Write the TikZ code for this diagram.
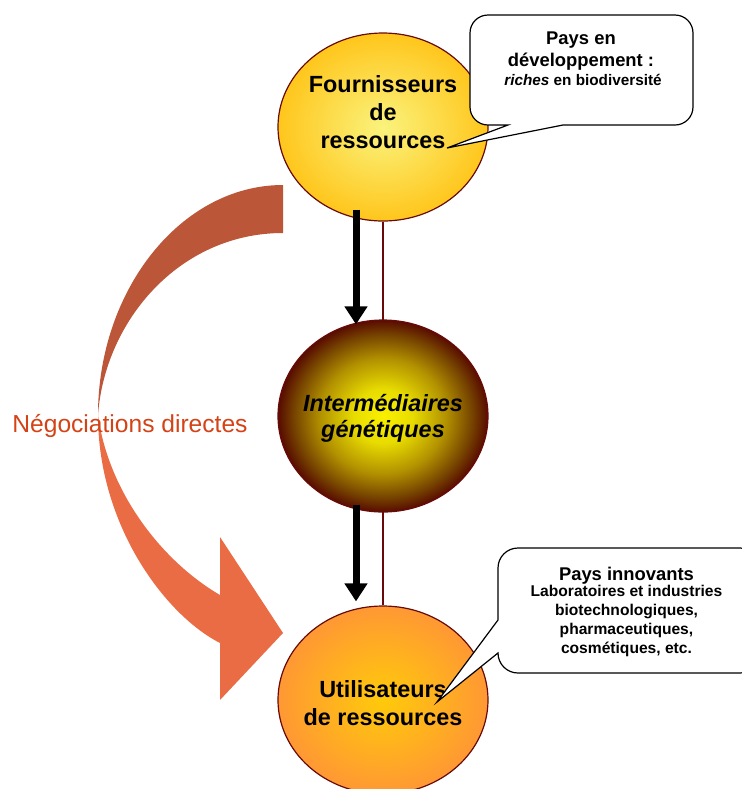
\documentclass[tikz,border=0pt]{standalone}
\usepackage{fontspec}
\setmainfont{Liberation Sans}
\usetikzlibrary{arrows.meta,backgrounds,shapes.geometric}

\definecolor{rimred}{RGB}{105,10,10}
\definecolor{backfold}{RGB}{188,86,57}
\definecolor{frontfold}{RGB}{234,108,69}
\definecolor{negored}{RGB}{212,66,22}
\definecolor{fournin}{RGB}{250,243,125}
\definecolor{fournout}{RGB}{255,198,28}
\definecolor{utilin}{RGB}{255,202,10}
\definecolor{utilout}{RGB}{255,152,52}
\definecolor{intermin}{RGB}{250,240,0}
\definecolor{intermlight}{RGB}{232,220,0}
\definecolor{intermmid}{RGB}{178,145,0}
\definecolor{intermdark}{RGB}{120,70,0}
\definecolor{intermout}{RGB}{88,12,0}

\pgfdeclareradialshading{fournball}{\pgfpointorigin}{color(0bp)=(fournin); color(25bp)=(fournout); color(50bp)=(fournout)}
\pgfdeclareradialshading{intermball}{\pgfpointorigin}{color(0bp)=(intermin); color(7bp)=(intermlight); color(15bp)=(intermmid); color(21bp)=(intermdark); color(25bp)=(intermout); color(50bp)=(intermout)}
\pgfdeclareradialshading{utilball}{\pgfpointorigin}{color(0bp)=(utilin); color(25bp)=(utilout); color(50bp)=(utilout)}

\begin{document}
\begin{tikzpicture}[x=0.5pt,y=-0.5pt,
  ball/.style={ellipse,draw=rimred,line width=0.6pt,inner sep=0pt,
    minimum width=105pt,minimum height=94pt},
  balltext/.style={align=center,font=\fontsize{11.7}{14}\selectfont\bfseries},
  flow/.style={line width=3.5pt,-{Triangle[width=11pt,length=9pt]}},
  bubble/.style={draw=black,line width=0.6pt,fill=white},
  bubbletitle/.style={align=center,font=\fontsize{9.2}{10.85}\selectfont\bfseries},
  bubblebody/.style={align=center,font=\fontsize{7.8}{9.35}\selectfont\bfseries}]
\useasboundingbox (0,0) rectangle (742,789);

%Big curved arrow
\fill[backfold] (283,185) .. controls (181,185) and (98,290) .. (98,415)
  .. controls (105,320) and (180,233) .. (283,233) -- cycle;
\fill[frontfold] (98,415) .. controls (98,525) and (165,615) .. (220,643)
  -- (220,700) -- (283,633) -- (220,537) -- (220,595)
  .. controls (160,560) and (108,490) .. (98,415) -- cycle;
\node[text=negored,font=\fontsize{12.3}{14}\selectfont,anchor=base] (nego) at (130,432) {Négociations directes};

%Circles
\node[ball,shade,shading=fournball] (fourn) at (383,127) {};
\node[ball,shade,shading=intermball,minimum height=96pt] (interm) at (383,416) {};
\node[ball,shade,shading=utilball] (util) at (383,700) {};
\node[balltext] (fourntext) at (383,112) {Fournisseurs\\de\\ressources};
\node[balltext,font=\fontsize{11.7}{13}\selectfont\bfseries\itshape] (intermtext) at (383,418) {Intermédiaires\\génétiques};
\node[balltext] (utiltext) at (383,703) {Utilisateurs\\de ressources};

%Links
\begin{scope}[on background layer]
\draw[rimred,line width=1pt] (fourn) -- (util);
\end{scope}
\draw[flow] ([xshift=-13.5pt,yshift=6pt]fourn.south) -- ([xshift=-13.5pt,yshift=-2.5pt]interm.north);
\draw[flow] ([xshift=-13.5pt,yshift=4pt]interm.south) -- ([xshift=-13.5pt,yshift=2pt]util.north);

%Callouts
\draw[bubble] (580,15) [rounded corners=9pt] -- (470,15) -- (470,125)
  [sharp corners] -- (508,125) -- (447,148) -- (563,125)
  [rounded corners=9pt] -- (693,125) -- (693,15) -- cycle;
\node[bubbletitle] (devtitle) at (581,51) {Pays en\\développement :};
\node[font=\fontsize{7.65}{9}\selectfont\bfseries,anchor=base] (devbody) at (583,85) {\textit{riches} en biodiversité};

\draw[bubble] (620,548) [rounded corners=10pt] -- (760,548) -- (760,673) -- (498,673)
  [sharp corners] -- (498,653) -- (437,702) -- (498,620)
  [rounded corners=10pt] -- (498,548) -- cycle;
\node[bubbletitle,anchor=base] (innovtitle) at (626.5,580) {Pays innovants};
\node[bubblebody] (innovbody) at (626.5,621) {Laboratoires et industries\\biotechnologiques,\\pharmaceutiques,\\cosmétiques, etc.};
\end{tikzpicture}
\end{document}
